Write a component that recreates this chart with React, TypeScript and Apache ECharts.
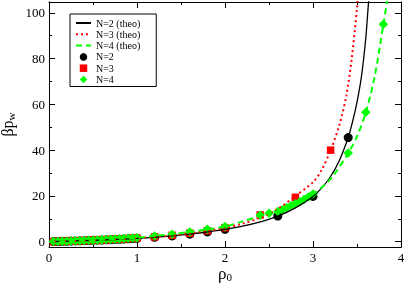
import React, { useEffect, useRef } from "react";
import * as echarts from "echarts";

// ---------- data ----------
const rhoLow = [0.05, 0.1, 0.15, 0.2, 0.25, 0.3, 0.35, 0.4, 0.45, 0.5, 0.55, 0.6, 0.65, 0.7, 0.75, 0.8, 0.85, 0.9, 0.95, 1.0, 1.2, 1.4, 1.6, 1.8, 2.0];

const n2Rho = [...rhoLow, 2.6, 3.0, 3.4];
const n2Val = [0.05, 0.1, 0.16, 0.22, 0.28, 0.34, 0.41, 0.47, 0.54, 0.61, 0.68, 0.76, 0.84, 0.92, 1.0, 1.09, 1.18, 1.28, 1.38, 1.48, 1.95, 2.55, 3.3, 4.3, 5.4, 11.2, 19.8, 45.5];

const n3Rho = [...rhoLow, 2.4, 2.8, 3.2];
const n3Val = [0.05, 0.11, 0.17, 0.23, 0.29, 0.36, 0.43, 0.5, 0.57, 0.65, 0.72, 0.8, 0.89, 0.98, 1.07, 1.17, 1.27, 1.38, 1.49, 1.6, 2.1, 2.8, 3.7, 4.8, 6.1, 11.7, 19.4, 40.0];

const n4Rho = [...rhoLow, 2.4, 2.5, 2.6, 2.65, 2.7, 2.75, 2.8, 2.85, 2.9, 2.95, 3.0, 3.4, 3.6, 3.8];
const n4Val = [0.05, 0.11, 0.17, 0.24, 0.31, 0.38, 0.45, 0.52, 0.6, 0.68, 0.77, 0.85, 0.95, 1.05, 1.15, 1.25, 1.37, 1.49, 1.62, 1.75, 2.5, 3.3, 4.3, 5.4, 6.6, 11.6, 12.4, 13.2, 14.0, 14.8, 15.7, 16.6, 17.5, 18.5, 19.6, 20.8, 38.7, 56.5, 95.0];

const theo2Rho = [0, 0.2, 0.4, 0.6, 0.8, 1.0, 1.2, 1.4, 1.6, 1.8, 2.0, 2.2, 2.4, 2.6, 2.8, 3.0, 3.1, 3.2, 3.3, 3.4, 3.45, 3.5, 3.55, 3.6, 3.63, 3.65];
const theo2Val = [0, 0.22, 0.47, 0.76, 1.09, 1.48, 1.95, 2.55, 3.3, 4.3, 5.4, 6.8, 8.7, 11.2, 14.8, 19.8, 23.5, 28.5, 35.5, 45.5, 52.5, 61, 72, 89, 104, 112];

const theo3Rho = [0, 0.2, 0.4, 0.6, 0.8, 1.0, 1.2, 1.4, 1.6, 1.8, 2.0, 2.2, 2.4, 2.6, 2.8, 3.0, 3.1, 3.2, 3.3, 3.38, 3.44, 3.5, 3.52];
const theo3Val = [0, 0.23, 0.5, 0.8, 1.17, 1.6, 2.1, 2.8, 3.7, 4.8, 6.1, 7.9, 10.5, 14.3, 20, 26, 31.5, 40, 51, 64, 80, 102, 112];

const theo4Rho = [0, 0.2, 0.4, 0.6, 0.8, 1.0, 1.2, 1.4, 1.6, 1.8, 2.0, 2.2, 2.4, 2.6, 2.8, 3.0, 3.2, 3.4, 3.5, 3.6, 3.7, 3.8, 3.84, 3.86];
const theo4Val = [0, 0.24, 0.52, 0.85, 1.25, 1.75, 2.5, 3.3, 4.3, 5.4, 6.6, 8.9, 11.2, 13.8, 16.9, 20.8, 27.5, 38.7, 46, 56.5, 72, 95, 105, 112];

const yMajor = [0, 20, 40, 60, 80, 100];
const yMinor = [10, 30, 50, 70, 90];
const legendNames = ["N=2 (theo)", "N=3 (theo)", "N=4 (theo)", "N=2", "N=3", "N=4"];

const FONT = "'Liberation Serif', 'DejaVu Serif', serif";
const zip = (a: number[], b: number[]) => a.map((v, i) => [v, b[i]]);
const legendIcons: Record<string, string> = {
  "N=3": "path://M0 0h10v10h-10z",
  "N=4": "path://M5 0L10 5L5 10L0 5Z",
};

export default function App() {
  const ref = useRef<HTMLDivElement>(null);
  useEffect(() => {
    document.body.style.margin = "0";
    const chart = echarts.init(ref.current!, null, { renderer: "svg" });
    const Y_MIN = -2.3;
    const Y_MAX = 104.7;
    const axLine = { show: true, onZero: false, lineStyle: { color: "#000", width: 1 } };
    const yBase = {
      type: "value" as const,
      min: Y_MIN,
      max: Y_MAX,
      splitLine: { show: false },
      axisLine: axLine,
    };
    chart.setOption({
      animation: false,
      grid: { left: 49, right: 6, top: 2, bottom: 36, containLabel: false, outerBoundsMode: "none" },
      legend: {
        data: legendNames.map((n) => (legendIcons[n] ? { name: n, icon: legendIcons[n] } : n)),
        orient: "vertical",
        left: 70,
        top: 14,
        backgroundColor: "#fff",
        borderColor: "#000",
        borderWidth: 1,
        borderRadius: 0,
        padding: [4, 16, 2, 5],
        itemWidth: 15,
        itemHeight: 7.5,
        itemGap: 1.3,
        textStyle: { fontFamily: FONT, fontSize: 10, color: "#000" },
      },
      xAxis: [
        {
          type: "value",
          min: 0,
          max: 4,
          interval: 1,
          position: "bottom",
          splitLine: { show: false },
          axisLine: axLine,
          axisTick: { inside: true, length: 6, lineStyle: { color: "#000" } },
          minorTick: { show: true, splitNumber: 2, length: 3, lineStyle: { color: "#000" } },
          axisLabel: { margin: 4, fontFamily: FONT, fontSize: 13, color: "#000" },
          name: "{a|ρ}{b|0}",
          nameLocation: "middle",
          nameGap: 17,
          nameMoveOverlap: false,
          nameTextStyle: {
            rich: {
              a: { fontFamily: FONT, fontSize: 17, color: "#000" },
              b: { fontFamily: FONT, fontSize: 11, color: "#000", padding: [7, 0, 0, 0] },
            },
          },
        },
        {
          type: "value",
          min: 0,
          max: 4,
          interval: 1,
          position: "top",
          splitLine: { show: false },
          axisLine: axLine,
          axisTick: { inside: true, length: 6, lineStyle: { color: "#000" } },
          minorTick: { show: true, splitNumber: 2, length: 3, lineStyle: { color: "#000" } },
          axisLabel: { show: false },
        },
      ],
      yAxis: [
        {
          ...yBase,
          position: "left",
          axisTick: { inside: true, length: 6, customValues: yMajor, lineStyle: { color: "#000" } },
          axisLabel: { customValues: yMajor, margin: 4, fontFamily: FONT, fontSize: 13, color: "#000" },
          name: "{a|βp}{b|w}",
          nameLocation: "middle",
          nameGap: 33,
          nameMoveOverlap: false,
          nameTextStyle: {
            rich: {
              a: { fontFamily: FONT, fontSize: 16, color: "#000" },
              b: { fontFamily: FONT, fontSize: 11, color: "#000", padding: [6, 0, 0, 0] },
            },
          },
        },
        {
          ...yBase,
          position: "left",
          axisTick: { inside: true, length: 3, customValues: yMinor, lineStyle: { color: "#000" } },
          axisLabel: { show: false },
        },
        {
          ...yBase,
          position: "right",
          axisTick: { inside: true, length: 6, customValues: yMajor, lineStyle: { color: "#000" } },
          axisLabel: { show: false },
        },
        {
          ...yBase,
          position: "right",
          axisTick: { inside: true, length: 3, customValues: yMinor, lineStyle: { color: "#000" } },
          axisLabel: { show: false },
        },
      ],
      series: [
        {
          name: "N=2 (theo)",
          type: "line",
          data: zip(theo2Rho, theo2Val),
          symbol: "none",
          smooth: 0.3,
          clip: true,
          lineStyle: { color: "#000", width: 1.3, type: "solid" },
          itemStyle: { color: "#000", opacity: 0 },
        },
        {
          name: "N=3 (theo)",
          type: "line",
          data: zip(theo3Rho, theo3Val),
          symbol: "none",
          smooth: 0.3,
          clip: true,
          lineStyle: { color: "#ff0000", width: 2, type: [2, 3] },
          itemStyle: { color: "#ff0000", opacity: 0 },
        },
        {
          name: "N=4 (theo)",
          type: "line",
          data: zip(theo4Rho, theo4Val),
          symbol: "none",
          smooth: 0.3,
          clip: true,
          lineStyle: { color: "#00ff00", width: 2, type: [6, 4] },
          itemStyle: { color: "#00ff00", opacity: 0 },
        },
        {
          name: "N=2",
          type: "scatter",
          data: zip(n2Rho, n2Val),
          symbol: "circle",
          symbolSize: 9,
          itemStyle: { color: "#000", opacity: 1 },
        },
        {
          name: "N=3",
          type: "scatter",
          data: zip(n3Rho, n3Val),
          symbol: "rect",
          symbolSize: 7.5,
          itemStyle: { color: "#ff0000", opacity: 1 },
        },
        {
          name: "N=4",
          type: "scatter",
          data: zip(n4Rho, n4Val),
          symbol: "diamond",
          symbolSize: 9.5,
          itemStyle: { color: "#00ff00", opacity: 1 },
        },
      ],
    });
    return () => chart.dispose();
  }, []);
  return <div ref={ref} style={{ position: "fixed", left: 0, top: 0, width: 407, height: 283 }} />;
}
